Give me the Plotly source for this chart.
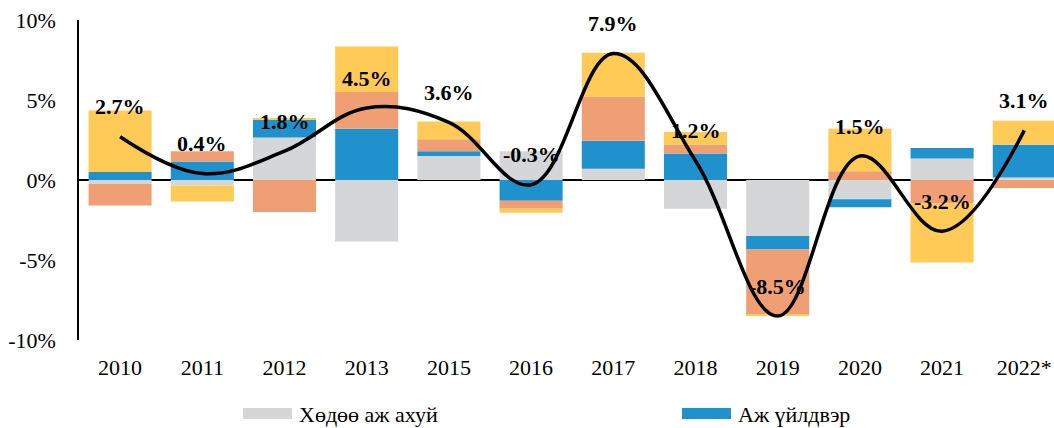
import plotly.graph_objects as go

years = ["2010", "2011", "2012", "2013", "2015", "2016", "2017", "2018", "2019", "2020", "2021", "2022*"]

agri = [-0.25, -0.35, 2.65, -3.85, 1.5, 1.8, 0.7, -1.8, -3.5, -1.2, 1.35, 0.15]
industry = [0.5, 1.15, 1.1, 3.2, 0.3, -1.3, 1.75, 1.65, -0.85, -0.5, 0.65, 2.05]
services = [-1.35, 0.65, -2.0, 2.3, 0.75, -0.5, 2.75, 0.55, -4.05, 0.55, -1.45, -0.5]
taxes = [3.85, -1.0, 0.1, 2.85, 1.1, -0.25, 2.75, 0.8, -0.1, 2.65, -3.7, 1.5]

growth = [2.7, 0.4, 1.8, 4.5, 3.6, -0.3, 7.9, 1.2, -8.5, 1.5, -3.2, 3.1]
growth_labels = ["2.7%", "0.4%", "1.8%", "4.5%", "3.6%", "-0.3%", "7.9%", "1.2%", "-8.5%", "1.5%", "-3.2%", "3.1%"]

y_ticks = [-10, -5, 0, 5, 10]
y_tick_labels = ["-10%", "-5%", "0%", "5%", "10%"]

legend_names = ["Хөдөө аж ахуй", "Аж үйлдвэр"]

C_GREY = "#D5D6D8"
C_BLUE = "#1F91CC"
C_ORANGE = "#F09F75"
C_YELLOW = "#FFCA56"
FONT = "Liberation Serif"

fig = go.Figure()
series = [
    ("Хөдөө аж ахуй", agri, C_GREY),
    ("Аж үйлдвэр", industry, C_BLUE),
    ("Үйлчилгээ", services, C_ORANGE),
    ("Бүтээгдэхүүний цэвэр татвар", taxes, C_YELLOW),
]
for name, vals, col in series:
    fig.add_trace(go.Bar(
        x=years, y=vals, name=name, marker=dict(color=col, line=dict(width=0)),
        showlegend=False,
    ))

fig.add_trace(go.Scatter(
    x=years, y=growth, mode="lines", name="ДНБ-ий өсөлт",
    line=dict(color="black", width=3.5, shape="spline", smoothing=1.1),
    showlegend=False,
))

# data labels: category axis -> use category index for annotation x
for i, (g, lab) in enumerate(zip(growth, growth_labels)):
    fig.add_annotation(
        x=i, y=g, xref="x", yref="y", text=f"<b>{lab}</b>", showarrow=False, yshift=30,
        font=dict(family=FONT, size=22, color="black"),
    )

W, H = 1054, 428
L, R, T, B = 79, 0, 20, 88
pw, ph = W - L - R, H - T - B

def px(x):
    return (x - L) / pw

def py(y):
    return (H - B - y) / ph

legend_items = [(legend_names[0], C_GREY, 243), (legend_names[1], C_BLUE, 682)]
for name, col, x0 in legend_items:
    fig.add_shape(type="rect", xref="paper", yref="paper",
                  x0=px(x0), x1=px(x0 + 49), y0=py(419), y1=py(408),
                  fillcolor=col, line=dict(width=0))
    fig.add_annotation(xref="paper", yref="paper", x=px(x0 + 54), y=py(414),
                       xanchor="left", yanchor="middle", showarrow=False,
                       text=name, font=dict(family=FONT, size=22, color="black"))

fig.update_layout(
    barmode="relative",
    bargap=0.233,
    width=W, height=H,
    margin=dict(l=L, r=R, t=T, b=B),
    paper_bgcolor="white", plot_bgcolor="white",
    font=dict(family=FONT, size=22, color="black"),
    showlegend=False,
)
fig.update_xaxes(
    type="category", range=[-0.5, -0.5 + pw / 82.2],
    showgrid=False, showline=False, ticks="", ticklabelstandoff=12,
    ticklabeloverflow="allow",
    tickfont=dict(family=FONT, size=22, color="black"),
)
fig.update_yaxes(
    range=[-10, 10], tickvals=y_ticks, ticktext=y_tick_labels,
    showgrid=False, zeroline=True, zerolinecolor="black", zerolinewidth=1.5,
    showline=True, linecolor="black", linewidth=1.5, ticks="",
    ticklabelstandoff=17, ticklabeloverflow="allow",
    tickfont=dict(family=FONT, size=22, color="black"),
)

fig.write_html(
    "out.html",
    config={"displayModeBar": False},
    post_script="document.body.style.margin='0';document.body.style.overflow='hidden';",
)
